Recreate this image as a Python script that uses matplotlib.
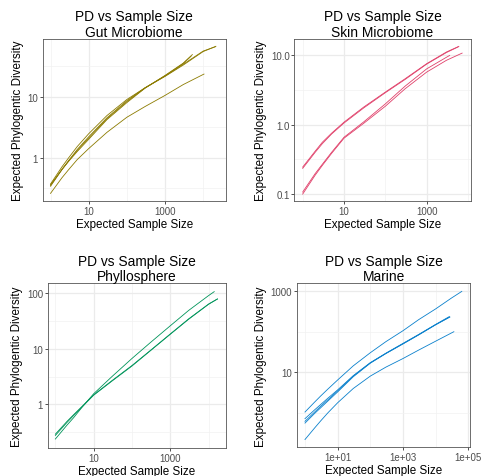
import numpy as np
import matplotlib
matplotlib.use("Agg")
import matplotlib.pyplot as plt
from matplotlib.ticker import FixedLocator, FixedFormatter, NullFormatter

plt.rcParams['font.family'] = ['Liberation Sans', 'DejaVu Sans']

# ---- data (x = expected sample size, y = expected PD)
gut_x1 = [1, 2, 3, 5, 10, 30, 100, 300, 1000, 3000, 10000, 21500]
gut_y1 = [0.37, 0.71, 1.0, 1.52, 2.47, 4.9, 9.0, 14.0, 21.5, 33, 55, 67]
gut_x2 = [1, 2, 3, 5, 10, 30, 100, 300, 1000, 3000, 10000, 21000]
gut_y2 = [0.34, 0.64, 0.90, 1.36, 2.2, 4.5, 8.6, 14.0, 21.8, 34, 56, 66]
gut_x3 = [1, 2, 3, 5, 10, 30, 100, 300, 1000, 3000, 5200]
gut_y3 = [0.36, 0.64, 0.875, 1.26, 2.0, 4.2, 8.0, 13.8, 22.3, 35.5, 49]
gut_x4 = [1, 2, 3, 5, 10, 30, 100, 300, 1000, 3000, 4800]
gut_y4 = [0.35, 0.645, 0.89, 1.31, 2.1, 4.35, 8.3, 13.9, 22.0, 35, 46]
gut_x5 = [1, 2, 3, 5, 10, 30, 100, 300, 1000, 3000, 10500]
gut_y5 = [0.26, 0.47, 0.64, 0.93, 1.41, 2.6, 4.6, 6.9, 10.5, 15.8, 23.5]

skin_x1 = [1, 2, 3, 5, 10, 30, 100, 300, 1000, 3000, 6000]
skin_y1 = [0.245, 0.415, 0.56, 0.755, 1.09, 1.8, 2.96, 4.6, 7.6, 11.2, 13.5]
skin_x2 = [1, 2, 3, 5, 10, 30, 100, 300, 1000, 3000, 5800]
skin_y2 = [0.235, 0.40, 0.535, 0.735, 1.06, 1.75, 2.9, 4.5, 7.5, 11.0, 13.3]
skin_x3 = [1, 2, 3, 5, 10, 30, 100, 300, 1000, 3000, 3600]
skin_y3 = [0.107, 0.197, 0.27, 0.40, 0.66, 1.1, 2.0, 3.6, 6.4, 9.4, 10.0]
skin_x4 = [1, 2, 3, 5, 10, 30, 100, 300, 1000, 3000, 7200]
skin_y4 = [0.10, 0.187, 0.26, 0.386, 0.64, 1.05, 1.85, 3.3, 5.75, 8.5, 10.8]

phyl_x1 = [1, 2, 3, 5, 10, 30, 100, 300, 1000, 3000, 10000, 14000]
phyl_y1 = [0.237, 0.42, 0.575, 0.89, 1.55, 3.16, 6.7, 12.9, 26, 49, 91, 107]
phyl_x2 = [1, 2, 3, 5, 10, 30, 100, 300, 1000, 3000, 10000, 17000]
phyl_y2 = [0.29, 0.49, 0.65, 0.92, 1.48, 2.67, 5.0, 9.3, 18.5, 34.5, 64, 79]
phyl_x3 = [1, 2, 3, 5, 10, 30, 100, 300, 1000, 3000, 10000, 17000]
phyl_y3 = [0.275, 0.47, 0.63, 0.90, 1.46, 2.62, 4.9, 9.2, 18.3, 34, 63.5, 79]

mar_x1 = [1, 2, 3, 5, 10, 30, 100, 300, 1000, 3000, 10000, 30000, 63000]
mar_y1 = [1.05, 1.87, 2.6, 3.86, 6.5, 14.5, 30.6, 57.5, 107, 200, 370, 680, 1000]
mar_x2 = [1, 2, 3, 5, 10, 30, 100, 300, 1000, 3000, 10000, 27000]
mar_y2 = [0.72, 1.2, 1.6, 2.3, 3.7, 8.3, 17.4, 29.5, 51, 85, 151, 234]
mar_x3 = [1, 2, 3, 5, 10, 30, 100, 300, 1000, 3000, 10000, 27000]
mar_y3 = [0.56, 0.98, 1.33, 1.96, 3.3, 7.8, 16.9, 29.2, 50.5, 84, 150, 232]
mar_x4 = [1, 2, 3, 5, 10, 30, 100, 300, 1000, 3000, 10000, 26000]
mar_y4 = [0.62, 1.06, 1.45, 2.1, 3.5, 8.1, 17.2, 29.8, 52, 86, 153, 238]
mar_x5 = [1, 2, 3, 5, 10, 30, 100, 300, 1000, 3000, 10000, 36000]
mar_y5 = [0.22, 0.43, 0.63, 1.0, 1.78, 4.0, 8.1, 13.5, 22, 35.5, 59, 101]

titles = ["Gut Microbiome", "Skin Microbiome", "Phyllosphere", "Marine"]
colors = ["#8C7B00", "#E0406A", "#00945A", "#0A80CC"]

W, H = 482, 477
fig = plt.figure(figsize=(W / 100, H / 100), dpi=100)

def rect(l, r, t, b):
    return [l / W, (H - b) / H, (r - l) / W, (b - t) / H]

def panel(box, curves, col, title, xlim, ylim, xmaj, xlab, xmin, ymaj, ylab, ymin):
    ax = fig.add_axes(rect(*box))
    for xs, ys in curves:
        ax.plot(xs, ys, color=col, lw=0.6)
    ax.set_xscale('log'); ax.set_yscale('log')
    ax.set_xlim(10 ** xlim[0], 10 ** xlim[1])
    ax.set_ylim(10 ** ylim[0], 10 ** ylim[1])
    ax.xaxis.set_major_locator(FixedLocator(xmaj))
    ax.xaxis.set_major_formatter(FixedFormatter(xlab))
    ax.xaxis.set_minor_locator(FixedLocator(xmin))
    ax.xaxis.set_minor_formatter(NullFormatter())
    ax.yaxis.set_major_locator(FixedLocator(ymaj))
    ax.yaxis.set_major_formatter(FixedFormatter(ylab))
    ax.yaxis.set_minor_locator(FixedLocator(ymin))
    ax.yaxis.set_minor_formatter(NullFormatter())
    ax.grid(which='major', color='#EBEBEB', lw=0.9)
    ax.grid(which='minor', color='#F2F2F2', lw=0.5)
    ax.set_axisbelow(True)
    ax.tick_params(which='major', length=2.2, width=0.6, color='#333333',
                   labelsize=7.0, labelcolor='#4D4D4D', pad=1.2)
    ax.tick_params(which='minor', length=0)
    for s in ax.spines.values():
        s.set_color('#555555'); s.set_linewidth(0.6)
    ax.set_title("PD vs Sample Size\n" + title, fontsize=9.9, pad=1.5, linespacing=1.15)
    ax.set_xlabel("Expected Sample Size", fontsize=8.4, labelpad=1.5)
    ax.set_ylabel("Expected Phylogentic Diversity", fontsize=8.4, labelpad=2.5)
    return ax

h = 10 ** 0.5
panel((42.7, 225.7, 40, 202),
      [(gut_x1, gut_y1), (gut_x2, gut_y2), (gut_x3, gut_y3), (gut_x4, gut_y4), (gut_x5, gut_y5)],
      colors[0], titles[0], (-0.205, 4.59), (-0.71, 1.946),
      [10, 1000], ["10", "1000"], [1, 100, 10000],
      [1, 10], ["1", "10"], [1 / h, h, 10 * h])

panel((294.3, 470.7, 40, 202),
      [(skin_x1, skin_y1), (skin_x2, skin_y2), (skin_x3, skin_y3), (skin_x4, skin_y4)],
      colors[1], titles[1], (-0.203, 4.065), (-1.10, 1.237),
      [10, 1000], ["10", "1000"], [1, 100, 10000],
      [0.1, 1, 10], ["0.1", "1.0", "10.0"], [1 / h, h])

panel((47.7, 225.7, 284.3, 449),
      [(phyl_x1, phyl_y1), (phyl_x2, phyl_y2), (phyl_x3, phyl_y3)],
      colors[2], titles[2], (-0.20, 4.446), (-0.787, 2.18),
      [10, 1000], ["10", "1000"], [1, 100, 10000],
      [1, 10, 100], ["1", "10", "100"], [1 / h, h, 10 * h])

panel((296.7, 470.3, 284.3, 448.3),
      [(mar_x1, mar_y1), (mar_x2, mar_y2), (mar_x3, mar_y3), (mar_x4, mar_y4), (mar_x5, mar_y5)],
      colors[3], titles[3], (-0.254, 5.06), (-0.85, 3.2),
      [10, 1000, 100000], ["1e+01", "1e+03", "1e+05"], [1, 100, 10000],
      [10, 1000], ["10", "1000"], [1, 100])

fig.savefig("out.png", dpi=100)
